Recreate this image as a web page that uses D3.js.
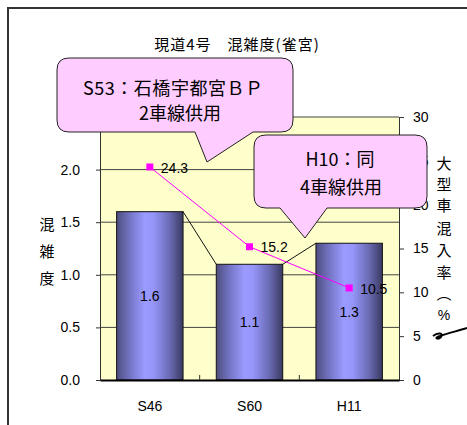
<!DOCTYPE html>
<html>
<head>
<meta charset="utf-8">
<script src="https://cdn.jsdelivr.net/npm/d3@7/dist/d3.min.js"></script>
<style>
  html, body { margin: 0; padding: 0; background: #ffffff; }
  svg { display: block; }
  text { font-family: "Liberation Sans", Arial, "Noto Sans CJK JP", sans-serif; fill: #000; }
  .jp { font-family: "Noto Sans CJK JP", "Liberation Sans", sans-serif; }
</style>
</head>
<body>
<script>
// Congestion ratio (bars, left axis) and heavy-vehicle share (line, right axis)
const categories = ["S46", "S60", "H11"];
const congestion = [1.6, 1.1, 1.3];
const heavyRatio = [24.3, 15.2, 10.5];
const leftTicks = [0, 0.5, 1.0, 1.5, 2.0, 2.5];
const rightTicks = [0, 5, 10, 15, 20, 25, 30];
const titleText = "現道4号　混雑度(雀宮)";
const leftTitle = ["混", "雑", "度"];
const rightTitle = ["大", "型", "車", "混", "入", "率", "︵", "%"];
const notes = [
  { lines: ["S53：石橋宇都宮ＢＰ", "2車線供用"] },
  { lines: ["H10：同", "4車線供用"] }
];

const W = 467, H = 425;
const plot = { left: 100, right: 399, top: 117, bottom: 380 };

const svg = d3.select("body").append("svg")
  .attr("width", W).attr("height", H);

const defs = svg.append("defs");
const grad = defs.append("linearGradient").attr("id", "barGrad")
  .attr("x1", "0%").attr("x2", "100%").attr("y1", "0%").attr("y2", "0%");
[["0%", "#4e4e80"], ["20%", "#7474c4"], ["42%", "#9a9aff"], ["55%", "#9696fa"], ["80%", "#6a6ab4"], ["100%", "#3a3a62"]]
  .forEach(([o, c]) => grad.append("stop").attr("offset", o).attr("stop-color", c));

// chart frame
svg.append("path").attr("d", `M8,${H} V8 H${W}`)
  .attr("fill", "none").attr("stroke", "#333").attr("stroke-width", 2);

// scales
const x = d3.scaleBand().domain(categories)
  .range([plot.left, plot.right]).paddingInner(1 / 3).paddingOuter(1 / 6);
const yL = d3.scaleLinear().domain([0, 2.5]).range([plot.bottom, plot.top]);
const yR = d3.scaleLinear().domain([0, 30]).range([plot.bottom, plot.top]);

// plot background
svg.append("rect")
  .attr("x", plot.left).attr("y", plot.top)
  .attr("width", plot.right - plot.left).attr("height", plot.bottom - plot.top)
  .attr("fill", "#ffffcc");

// gridlines
svg.append("g").selectAll("line")
  .data(leftTicks.filter(d => d > 0))
  .join("line")
  .attr("x1", plot.left).attr("x2", plot.right)
  .attr("y1", d => yL(d)).attr("y2", d => yL(d))
  .attr("stroke", "#444").attr("stroke-width", 1);

// left axis
const gL = svg.append("g").attr("transform", `translate(${plot.left},0)`)
  .call(d3.axisLeft(yL).tickValues(leftTicks).tickFormat(d3.format(".1f"))
    .tickSize(4).tickPadding(16));
gL.select(".domain").attr("stroke", "#333");
gL.selectAll(".tick line").attr("stroke", "#333");
gL.selectAll("text").style("font-size", "14px").style("font-family", "Liberation Sans, Arial, sans-serif");

// right axis
const gR = svg.append("g").attr("transform", `translate(${plot.right},0)`)
  .call(d3.axisRight(yR).tickValues(rightTicks).tickSize(5).tickPadding(9));
gR.select(".domain").attr("stroke", "#333");
gR.selectAll(".tick line").attr("stroke", "#333");
gR.selectAll("text").style("font-size", "14px").style("font-family", "Liberation Sans, Arial, sans-serif");

// bars
const bw = x.bandwidth();
svg.append("g").selectAll("rect")
  .data(categories.map((c, i) => ({ c, v: congestion[i] })))
  .join("rect")
  .attr("x", d => x(d.c)).attr("width", bw)
  .attr("y", d => yL(d.v)).attr("height", d => yL(0) - yL(d.v))
  .attr("fill", "url(#barGrad)").attr("stroke", "#111").attr("stroke-width", 1);

// series lines joining bar tops
svg.append("g").selectAll("line")
  .data(d3.pairs(categories.map((c, i) => ({ c, v: congestion[i] }))))
  .join("line")
  .attr("x1", d => x(d[0].c) + bw).attr("y1", d => yL(d[0].v))
  .attr("x2", d => x(d[1].c)).attr("y2", d => yL(d[1].v))
  .attr("stroke", "#111").attr("stroke-width", 1);

// bar value labels
svg.append("g").selectAll("text")
  .data(categories.map((c, i) => ({ c, v: congestion[i] })))
  .join("text")
  .attr("x", d => x(d.c) + bw / 2)
  .attr("y", d => (yL(d.v) + yL(0)) / 2)
  .attr("dy", "0.35em")
  .attr("text-anchor", "middle")
  .style("font-size", "14px")
  .text(d => d.v.toFixed(1));

// category axis
const gB = svg.append("g").attr("transform", `translate(0,${plot.bottom})`)
  .call(d3.axisBottom(x).tickSize(0).tickPadding(21));
gB.select(".domain").attr("stroke", "#000").attr("stroke-width", 2);
gB.selectAll("text").style("font-size", "14px").style("font-family", "Liberation Sans, Arial, sans-serif");
svg.append("g").selectAll("line")
  .data(categories.slice(1))
  .join("line")
  .attr("x1", c => x(c) - x.step() * x.paddingInner() / 2)
  .attr("x2", c => x(c) - x.step() * x.paddingInner() / 2)
  .attr("y1", plot.bottom - 5).attr("y2", plot.bottom)
  .attr("stroke", "#333");

// heavy-vehicle share line
const pts = categories.map((c, i) => ({ c, v: heavyRatio[i] }));
svg.append("path")
  .datum(pts)
  .attr("d", d3.line().x(d => x(d.c) + bw / 2).y(d => yR(d.v)))
  .attr("fill", "none").attr("stroke", "#ff00ff").attr("stroke-width", 1);
svg.append("g").selectAll("rect")
  .data(pts)
  .join("rect")
  .attr("x", d => x(d.c) + bw / 2 - 3.5).attr("y", d => yR(d.v) - 3.5)
  .attr("width", 7).attr("height", 7)
  .attr("fill", "#ff00ff");
svg.append("g").selectAll("text")
  .data(pts)
  .join("text")
  .attr("x", d => x(d.c) + bw / 2 + 11)
  .attr("y", d => yR(d.v))
  .attr("dy", "0.4em")
  .style("font-size", "14px")
  .text(d => d.v.toFixed(1));

// title
svg.append("text").attr("class", "jp")
  .attr("x", 237).attr("y", 50)
  .attr("text-anchor", "middle")
  .style("font-size", "15px")
  .style("letter-spacing", "1px")
  .text(titleText);

// left axis title (vertical)
svg.append("g").selectAll("text")
  .data(leftTitle)
  .join("text").attr("class", "jp")
  .attr("x", 47).attr("y", (d, i) => 230 + i * 27)
  .attr("text-anchor", "middle")
  .style("font-size", "15px")
  .text(d => d);

// right axis title (vertical)
const rY = [169, 190, 211, 234, 256, 278, 299, 320];
svg.append("g").selectAll("text")
  .data(rightTitle)
  .join("text")
  .attr("class", d => d === "%" ? null : "jp")
  .attr("x", 444).attr("y", (d, i) => rY[i])
  .attr("text-anchor", "middle")
  .style("font-size", d => d === "%" ? "14px" : "15px")
  .text(d => d);
// closing bracket stroke below the right title
svg.append("path")
  .attr("d", "M433,336 C438,332 444,333 441,337 C438,340 433,338 440,336 C448,333 458,331 467,328")
  .attr("fill", "none").attr("stroke", "#000").attr("stroke-width", 2);

// callout shapes
function calloutPath(x0, y0, x1, y1, r, b0, b1, tx, ty) {
  return [
    `M${x0 + r},${y0}`,
    `H${x1 - r}`, `Q${x1},${y0} ${x1},${y0 + r}`,
    `V${y1 - r}`, `Q${x1},${y1} ${x1 - r},${y1}`,
    `H${b1}`, `L${tx},${ty}`, `L${b0},${y1}`,
    `H${x0 + r}`, `Q${x0},${y1} ${x0},${y1 - r}`,
    `V${y0 + r}`, `Q${x0},${y0} ${x0 + r},${y0}`, "Z"
  ].join(" ");
}
const shapes = [
  { box: [57, 58, 293, 132], wedge: [195, 253, 207, 162], text: [[173, 95, 180], [180, 120, 0]] },
  { box: [254, 135, 427, 208], wedge: [280, 327, 305, 238], text: [[340, 166, 0], [341, 194, 0]] }
];
shapes.forEach((s, k) => {
  const [x0, y0, x1, y1] = s.box;
  const [b0, b1, tx, ty] = s.wedge;
  svg.append("path")
    .attr("d", calloutPath(x0, y0, x1, y1, 12, b0, b1, tx, ty))
    .attr("fill", "#ffccff").attr("stroke", "#222").attr("stroke-width", 1);
  notes[k].lines.forEach((ln, j) => {
    const [cx, by, len] = s.text[j];
    const t = svg.append("text").attr("class", "jp")
      .attr("x", cx).attr("y", by)
      .attr("text-anchor", "middle")
      .style("font-size", "18px")
      .text(ln);
    if (len) t.attr("textLength", len).attr("lengthAdjust", "spacing");
  });
});
</script>
</body>
</html>
